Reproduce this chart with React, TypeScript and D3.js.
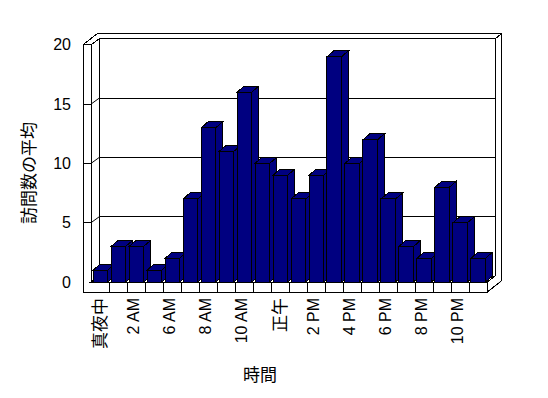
import React from "react";
import * as d3 from "d3";

const categories = ["真夜中", "1 AM", "2 AM", "5 AM", "6 AM", "7 AM", "8 AM", "9 AM", "10 AM", "11 AM", "正午", "1 PM", "2 PM", "3 PM", "4 PM", "5 PM", "6 PM", "7 PM", "8 PM", "9 PM", "10 PM", "11 PM"];
const values = [1, 3, 3, 1, 2, 7, 13, 11, 16, 10, 9, 7, 9, 19, 10, 12, 7, 3, 2, 8, 5, 2];
const yTicks = [0, 5, 10, 15, 20];
const yTitle = "訪問数の平均";
const xTitle = "時間";

const W = 548, H = 398;
const FILL = "#000080";
const CJK = "'Noto Sans CJK JP', sans-serif";
const LAT = "'Liberation Sans', Arial, sans-serif";

export default function App() {
  const left = 91.3, right = 487.3;
  const slots = d3.scaleBand<number>().domain(d3.range(categories.length)).range([left, right]).padding(0);
  const xb = d3.scaleBand<number>().domain(d3.range(categories.length)).range([left, right]).paddingInner(0.19).paddingOuter(0.1);
  const y = d3.scaleLinear().domain([0, 20]).range([282, 44.8]);
  const wallX = 83; // outer left
  const wt = 8; // wall thickness
  const bdx = 8, bdy = -6; // back wall front face offset
  const odx = 14, ody = -11; // back outer offset
  const barDx = 7, barDy = -6;
  const y0 = y(0), yTop = y(20);
  const floorBottom = 292;
  const backRight = right + bdx; // 495.3
  const pts = (a: number[][]) => a.map(p => p.join(",")).join(" ");
  const isCJK = (s: string) => /[^\x00-\x7f]/.test(s);

  return (
    <svg width={W} height={H} style={{ position: "absolute", left: 0, top: 0, background: "#fff" }} shapeRendering="crispEdges">
      <rect x={0} y={0} width={W} height={H} fill="#fff" />
      {/* back wall front face */}
      <polygon points={pts([[left + bdx, yTop + bdy], [backRight, yTop + bdy], [backRight, y0 + bdy], [left + bdx, y0 + bdy]])} fill="#fff" stroke="#000" />
      {/* back wall top + left wall top */}
      <polygon points={pts([[wallX, yTop], [wallX + wt, yTop], [left + bdx, yTop + bdy], [backRight, yTop + bdy], [right + odx, yTop + ody], [wallX + odx, yTop + ody]])} fill="#fff" stroke="#000" />
      {/* back wall right end face */}
      <polygon points={pts([[backRight, yTop + bdy], [right + odx, yTop + ody], [right + odx, floorBottom + ody], [right, floorBottom], [right, y0], [backRight, y0 + bdy]])} fill="#fff" stroke="#000" />
      {/* left wall inner face */}
      <polygon points={pts([[wallX + wt, yTop], [left + bdx, yTop + bdy], [left + bdx, y0 + bdy], [wallX + wt, y0]])} fill="#fff" stroke="#000" />
      {/* floor top */}
      <polygon points={pts([[wallX + wt, y0], [right, y0], [backRight, y0 + bdy], [left + bdx, y0 + bdy]])} fill="#fff" stroke="#000" />
      {/* gridlines */}
      {yTicks.filter(v => v > 0 && v < 20).map(v => (
        <g key={v} fill="none" stroke="#000">
          <line x1={left + bdx} x2={backRight} y1={y(v) + bdy} y2={y(v) + bdy} />
          <line x1={wallX + wt} x2={left + bdx} y1={y(v)} y2={y(v) + bdy} shapeRendering="auto" />
          <line x1={wallX} x2={wallX + wt} y1={y(v)} y2={y(v)} />
        </g>
      ))}
      {/* left wall front face + floor front face (L shape) */}
      <polygon points={pts([[wallX, yTop], [wallX + wt, yTop], [wallX + wt, y0], [right, y0], [right, floorBottom], [wallX, floorBottom]])} fill="none" stroke="#000" />
      {yTicks.filter(v => v > 0 && v < 20).map(v => (
        <line key={"t" + v} x1={wallX} x2={wallX + wt} y1={y(v)} y2={y(v)} stroke="#000" />
      ))}
      {d3.range(1, categories.length).map(i => (
        <line key={"d" + i} x1={slots(i)!} x2={slots(i)!} y1={y0} y2={floorBottom} stroke="#000" />
      ))}
      <line x1={right} y1={floorBottom} x2={right + odx} y2={floorBottom + ody} stroke="#000" shapeRendering="auto" />
      {/* bars */}
      {values.map((v, i) => {
        const x0 = xb(i)!, w = xb.bandwidth(), t = y(v);
        return (
          <g key={i} fill={FILL} stroke="#000">
            <polygon points={pts([[x0 + w, t], [x0 + w + barDx, t + barDy], [x0 + w + barDx, y0 + barDy], [x0 + w, y0]])} />
            <polygon points={pts([[x0, t], [x0 + w, t], [x0 + w + barDx, t + barDy], [x0 + barDx, t + barDy]])} />
            <rect x={x0} y={t} width={w} height={y0 - t} />
          </g>
        );
      })}
      {/* y tick labels */}
      {yTicks.map(v => (
        <text key={"yl" + v} x={71} y={y(v)} dy="0.35em" textAnchor="end" fontFamily={LAT} fontSize={16} fill="#000">{v}</text>
      ))}
      {/* x tick labels */}
      {categories.map((c, i) => {
        if (i % 2 !== 0) return null;
        const cx = slots(i)! + slots.bandwidth() / 2 + (isCJK(c) ? -0.5 : -3);
        return (
          <text key={"xl" + i} transform={`translate(${cx},298) rotate(-90)`} dy="0.35em" textAnchor="end"
            fontFamily={isCJK(c) ? CJK : LAT} fontSize={isCJK(c) ? 17 : 16} fill="#000">{c}</text>
        );
      })}
      <text transform="translate(29,173) rotate(-90)" dy="0.35em" textAnchor="middle" fontFamily={CJK} fontSize={17} fill="#000">{yTitle}</text>
      <text x={260} y={375} dy="0.35em" textAnchor="middle" fontFamily={CJK} fontSize={17} fill="#000">{xTitle}</text>
    </svg>
  );
}
